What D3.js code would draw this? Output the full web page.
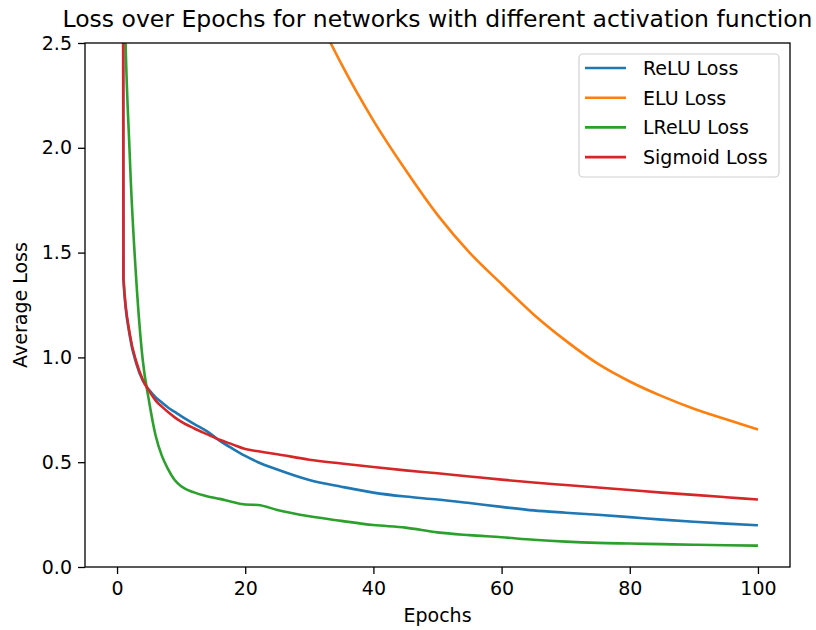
<!DOCTYPE html>
<html>
<head>
<meta charset="utf-8">
<script src="https://cdn.jsdelivr.net/npm/d3@7"></script>
<style>
    body { margin: 0; background: #fff; }
    text { font-family: "DejaVu Sans", sans-serif; fill: #000; }
</style>
</head>
<body>
<script>
var epochs = [0, 1, 2, 3, 4, 5, 6, 7, 8, 9, 10, 12, 14, 16, 18, 20, 22, 25, 30, 35,
    40, 45, 50, 55, 60, 65, 70, 75, 80, 85, 90, 95, 100];

var reluLoss = [30, 1.37, 1.10, 0.97, 0.89, 0.845, 0.81, 0.785, 0.76, 0.74, 0.72, 0.683, 0.648, 0.603, 0.565, 0.53, 0.50, 0.465, 0.415, 0.383,
    0.355, 0.336, 0.322, 0.305, 0.287, 0.27, 0.259, 0.249, 0.238, 0.226, 0.216, 0.207, 0.199];

var eluLoss = [12, 10, 9, 8.3, 7.7, 7.2, 6.8, 6.4, 6.1, 5.8, 5.5, 5.0, 4.6, 4.25, 3.95, 3.7, 3.45, 3.15, 2.72, 2.40,
    2.13, 1.895, 1.68, 1.50, 1.35, 1.205, 1.08, 0.97, 0.885, 0.815, 0.755, 0.705, 0.656];

var lreluLoss = [30, 3.0, 1.95, 1.37, 0.99, 0.79, 0.63, 0.53, 0.465, 0.415, 0.385, 0.356, 0.338, 0.325, 0.31, 0.298, 0.296, 0.272, 0.242, 0.22,
    0.2, 0.188, 0.165, 0.152, 0.142, 0.13, 0.121, 0.115, 0.112, 0.109, 0.106, 0.104, 0.102];

var sigmoidLoss = [30, 1.38, 1.11, 0.98, 0.895, 0.84, 0.795, 0.765, 0.738, 0.714, 0.694, 0.662, 0.634, 0.607, 0.585, 0.563, 0.552, 0.538, 0.512, 0.494,
    0.477, 0.461, 0.447, 0.432, 0.417, 0.403, 0.391, 0.379, 0.367, 0.355, 0.344, 0.333, 0.322];

var seriesNames = ["ReLU Loss", "ELU Loss", "LReLU Loss", "Sigmoid Loss"];
var seriesColors = ["#1f77b4", "#ff7f0e", "#2ca02c", "#d62728"];

var xTicks = [0, 20, 40, 60, 80, 100];
var yTicks = [0, 0.5, 1.0, 1.5, 2.0, 2.5];

window.onload = function () {

    var w = 816, h = 630;
    var left = 85, top = 43, right = 790, bottom = 567;

    var svg = d3.select("body")
        .append("svg")
        .attr("width", w)
        .attr("height", h);

    var x = d3.scaleLinear()
        .domain([-5, 105])
        .range([left, right]);

    var y = d3.scaleLinear()
        .domain([0, 2.5])
        .range([bottom, top]);

    //clip lines to the axes box
    svg.append("clipPath")
        .attr("id", "plotClip")
        .append("rect")
        .attr("x", left)
        .attr("y", top)
        .attr("width", right - left)
        .attr("height", bottom - top);

    var allSeries = [reluLoss, eluLoss, lreluLoss, sigmoidLoss];

    var line = d3.line()
        .x(function (d, i) { return x(epochs[i]); })
        .y(function (d) { return y(d); })
        .curve(d3.curveMonotoneX);

    svg.append("g")
        .attr("clip-path", "url(#plotClip)")
        .selectAll(".lossLine")
        .data(allSeries)
        .enter()
        .append("path")
        .attr("class", "lossLine")
        .attr("d", line)
        .attr("fill", "none")
        .attr("stroke", function (d, i) { return seriesColors[i]; })
        .attr("stroke-width", 2.6)
        .attr("stroke-linejoin", "round");

    //axes
    var xAxis = d3.axisBottom(x)
        .tickValues(xTicks)
        .tickSize(7)
        .tickPadding(6)
        .tickFormat(d3.format("d"));

    var yAxis = d3.axisLeft(y)
        .tickValues(yTicks)
        .tickSize(7)
        .tickPadding(6)
        .tickFormat(d3.format(".1f"));

    var gx = svg.append("g")
        .attr("transform", "translate(0," + bottom + ")")
        .call(xAxis);

    var gy = svg.append("g")
        .attr("transform", "translate(" + left + ",0)")
        .call(yAxis);

    [gx, gy].forEach(function (g) {
        g.select(".domain").remove();
        g.selectAll(".tick line").attr("stroke", "#000").attr("stroke-width", 1.3);
        g.selectAll(".tick text")
            .style("font-family", "DejaVu Sans")
            .style("font-size", "19px")
            .attr("fill", "#000");
    });
    gx.selectAll(".tick text").attr("dy", "0.78em");

    //frame
    svg.append("rect")
        .attr("x", left)
        .attr("y", top)
        .attr("width", right - left)
        .attr("height", bottom - top)
        .attr("fill", "none")
        .attr("stroke", "#000")
        .attr("stroke-width", 1.3);

    //title and labels
    svg.append("text")
        .attr("x", (left + right) / 2)
        .attr("y", 27)
        .attr("text-anchor", "middle")
        .style("font-size", "23.5px")
        .text("Loss over Epochs for networks with different activation function");

    svg.append("text")
        .attr("x", (left + right) / 2)
        .attr("y", 622)
        .attr("text-anchor", "middle")
        .style("font-size", "19px")
        .text("Epochs");

    svg.append("text")
        .attr("transform", "translate(27," + (top + bottom) / 2 + ") rotate(-90)")
        .attr("text-anchor", "middle")
        .style("font-size", "19px")
        .text("Average Loss");

    //legend
    var legend = svg.append("g");

    legend.append("rect")
        .attr("x", 579)
        .attr("y", 54)
        .attr("width", 200)
        .attr("height", 123)
        .attr("rx", 4)
        .attr("fill", "#fff")
        .attr("fill-opacity", 0.8)
        .attr("stroke", "#d0d0d0")
        .attr("stroke-width", 1.2);

    var rows = legend.selectAll(".legendRow")
        .data(seriesNames)
        .enter()
        .append("g")
        .attr("class", "legendRow")
        .attr("transform", function (d, i) {
            return "translate(0," + (68 + i * 29.7) + ")";
        });

    rows.append("line")
        .attr("x1", 585)
        .attr("x2", 626)
        .attr("y1", 0)
        .attr("y2", 0)
        .attr("stroke", function (d, i) { return seriesColors[i]; })
        .attr("stroke-width", 2.6);

    rows.append("text")
        .attr("x", 643)
        .attr("y", 6.8)
        .style("font-size", "19px")
        .text(function (d) { return d; });
};
</script>
</body>
</html>
